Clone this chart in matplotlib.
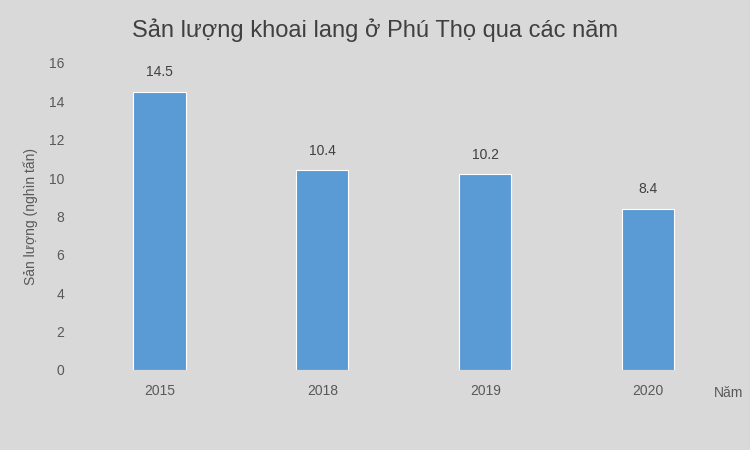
import matplotlib.pyplot as plt

plt.rcParams['font.family'] = ['Liberation Sans', 'DejaVu Sans']

years = ['2015', '2018', '2019', '2020']
output = [14.5, 10.4, 10.2, 8.4]
y_ticks = [0, 2, 4, 6, 8, 10, 12, 14, 16]

bg = '#d9d9d9'
bar_color = '#5b9bd5'
text_color = '#595959'

fig = plt.figure(figsize=(7.5, 4.5), dpi=100, facecolor=bg)
ax = fig.add_axes([0.104, 0.178, 0.869, 0.682])
ax.set_facecolor(bg)

x = range(len(years))
bars = ax.bar(x, output, width=0.32, color=bar_color, edgecolor='white', linewidth=0.8)

for rect, v in zip(bars, output):
    ax.annotate(f'{v}', (rect.get_x() + rect.get_width() / 2, v),
                xytext=(0, 9), textcoords='offset points',
                ha='center', va='bottom', fontsize=10, color='#404040')

ax.set_xlim(-0.5, len(years) - 0.5)
ax.set_ylim(0, 16)
ax.set_yticks(y_ticks)
ax.set_xticks(list(x))
ax.set_xticklabels(years)
ax.tick_params(axis='both', length=0, labelsize=10, colors=text_color)
ax.tick_params(axis='x', pad=10)
ax.tick_params(axis='y', pad=10)

for s in ax.spines.values():
    s.set_visible(False)

ax.set_ylabel('Sản lượng (nghìn tấn)', fontsize=10, color=text_color, labelpad=8)
fig.text(0.971, 0.127, 'Năm', fontsize=10, color=text_color, ha='center', va='center')
fig.text(0.5, 0.933, 'Sản lượng khoai lang ở Phú Thọ qua các năm',
         fontsize=17, color='#404040', ha='center', va='center')

fig.savefig('out.png', dpi=100, facecolor=bg)
